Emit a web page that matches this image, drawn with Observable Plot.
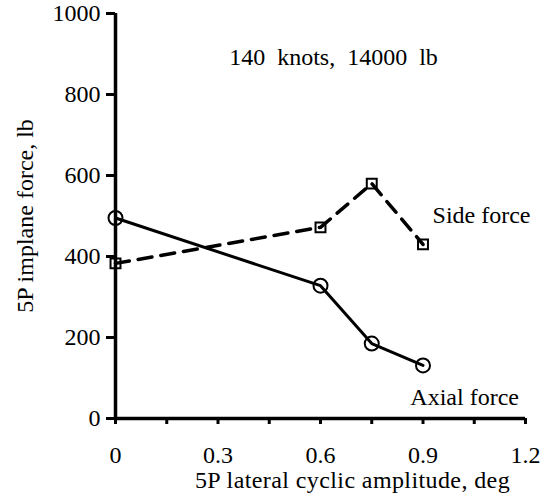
<!DOCTYPE html>
<html>
<head>
<meta charset="utf-8">
<script src="https://cdn.jsdelivr.net/npm/d3@7"></script>
<script src="https://cdn.jsdelivr.net/npm/@observablehq/plot@0.6"></script>
<style>
  html, body { margin: 0; padding: 0; background: white; }
  #chart svg { display: block; }
</style>
</head>
<body>
<div id="chart"></div>
<script>
// Data
const amplitude = [0, 0.6, 0.75, 0.9];          // 5P lateral cyclic amplitude, deg
const axialForce = [495, 328, 185, 131];         // lb
const sideForce = [383, 472, 580, 430];          // lb

const xTicks = [0, 0.3, 0.6, 0.9, 1.2];
const xMinorTicks = [0.15, 0.45, 0.75, 1.05];
const yTicks = [0, 200, 400, 600, 800, 1000];

const titleText = ["140 knots, 14000 lb"];
const titleX = [0.638];
const titleY = [891];
const seriesLabels = ["Side force", "Axial force"];
const seriesLabelX = [0.928, 0.863];
const seriesLabelY = [501, 52];

const axial = amplitude.map((a, i) => ({x: a, y: axialForce[i]}));
const side = amplitude.map((a, i) => ({x: a, y: sideForce[i]}));
const title = titleText.map((t, i) => ({text: t, x: titleX[i], y: titleY[i]}));
const labels = seriesLabels.map((t, i) => ({text: t, x: seriesLabelX[i], y: seriesLabelY[i]}));

const font = "'Liberation Serif', 'Times New Roman', serif";

const chart = Plot.plot({
  width: 551,
  height: 500,
  marginLeft: 115,
  marginRight: 26,
  marginTop: 13,
  marginBottom: 82,
  x: {domain: [0, 1.2]},
  y: {domain: [0, 1000]},
  style: {fontFamily: font, fontSize: "24px", color: "black", background: "white"},
  marks: [
    Plot.axisY({ticks: yTicks, tickSize: 9, tickPadding: 6, strokeWidth: 3, label: null, fontSize: 24, tickFormat: "d"}),
    Plot.axisX({ticks: xMinorTicks, tickSize: 6, strokeWidth: 3, tickFormat: () => "", label: null}),
    Plot.axisX({ticks: xTicks, tickSize: 6, tickPadding: 21, strokeWidth: 3, label: null, fontSize: 24,
      tickFormat: d => d === 0 ? "0" : d3.format(".1f")(d)}),
    Plot.ruleX([0], {stroke: "black", strokeWidth: 3.5}),
    Plot.ruleY([0], {stroke: "black", strokeWidth: 3.5}),
    Plot.text(["5P implane force, lb"], {frameAnchor: "left", textAnchor: "middle", lineAnchor: "middle", rotate: -90, dx: -90, fontSize: 24}),
    Plot.text(["5P lateral cyclic amplitude, deg"], {frameAnchor: "bottom", textAnchor: "middle", lineAnchor: "middle", dx: 32, dy: 62, fontSize: 24, style: "letter-spacing:0.4px"}),
    Plot.line(side, {x: "x", y: "y", stroke: "black", strokeWidth: 3.5, strokeDasharray: "14,9"}),
    Plot.line(axial, {x: "x", y: "y", stroke: "black", strokeWidth: 3}),
    Plot.dot(side, {x: "x", y: "y", symbol: "square", r: 5.6, stroke: "black", strokeWidth: 2, fill: "none"}),
    Plot.dot(axial, {x: "x", y: "y", symbol: "circle", r: 7, stroke: "black", strokeWidth: 2, fill: "none"}),
    Plot.text(title, {x: "x", y: "y", text: "text", textAnchor: "middle", fontSize: 24}),
    Plot.text(labels, {x: "x", y: "y", text: "text", textAnchor: "start", fontSize: 24})
  ]
});
// widen word spacing of the in-plot title to match the reference
d3.select(chart).selectAll("text").filter(function() { return this.textContent === titleText[0]; })
  .style("word-spacing", "6px");
d3.select(chart).selectAll("text").filter(function() { return this.textContent === "5P lateral cyclic amplitude, deg"; })
  .style("letter-spacing", "0.4px");
document.getElementById("chart").appendChild(chart);
</script>
</body>
</html>
